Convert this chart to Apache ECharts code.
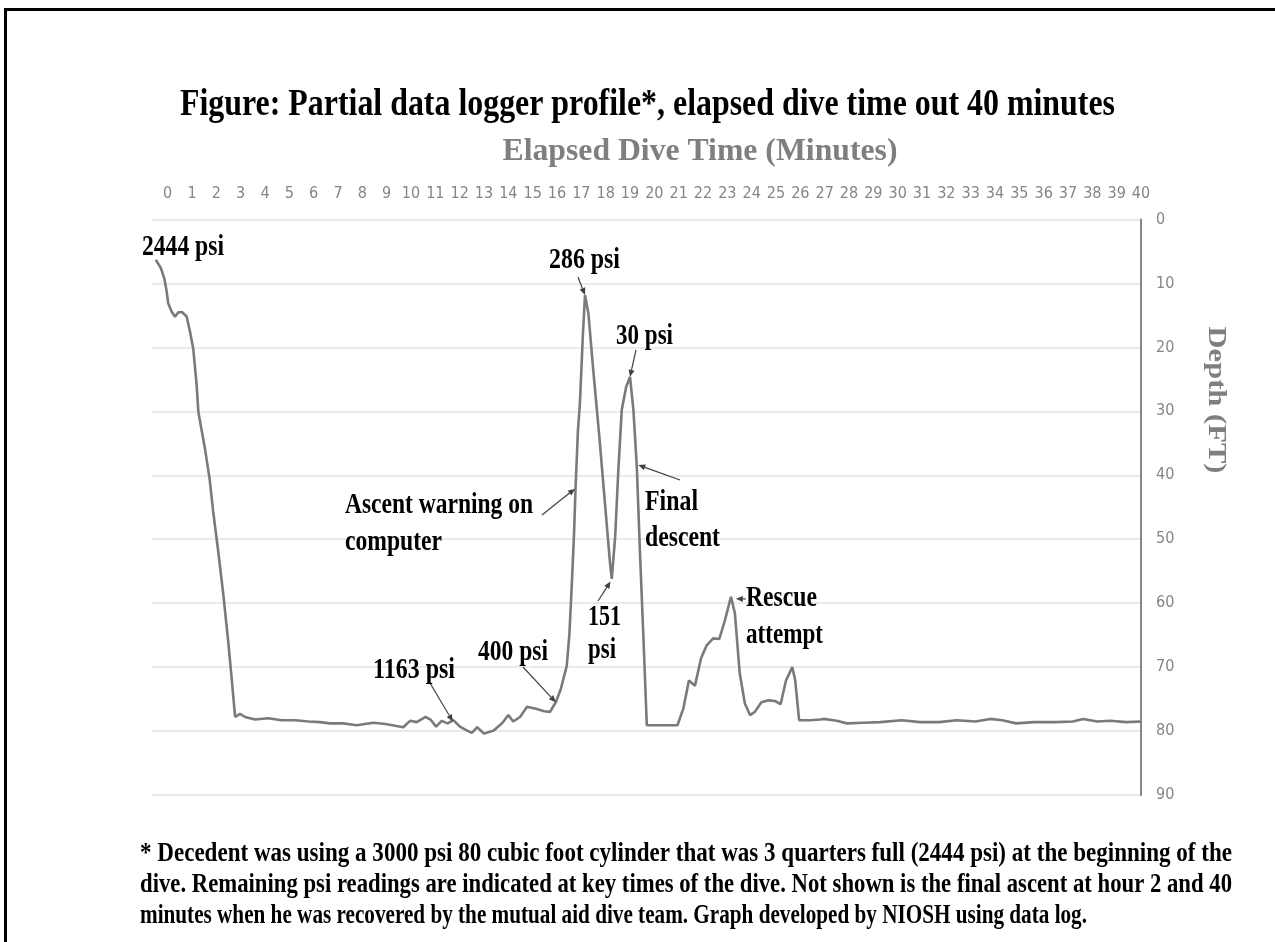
<!DOCTYPE html>
<html>
<head>
<meta charset="utf-8">
<script src="https://cdn.jsdelivr.net/npm/echarts@6/dist/echarts.min.js"></script>
<style>
html, body { margin: 0; padding: 0; background: #fff; }
#chart { width: 1275px; height: 942px; }
</style>
</head>
<body>
<div id="chart"></div>
<script>
// elapsed dive time (minutes)
const timeMin = [-0.49, -0.28, -0.14, -0.04, 0.02, 0.16, 0.30, 0.44, 0.60, 0.78, 0.92, 1.05, 1.19, 1.26, 1.53, 1.72, 1.87, 2.08, 2.29, 2.49, 2.63, 2.77, 2.97, 3.18, 3.59, 4.13, 4.69, 5.24, 5.80, 6.26, 6.67, 7.20, 7.77, 8.45, 8.95, 9.68, 9.96, 10.23, 10.60, 10.80, 11.03, 11.26, 11.50, 11.74, 12.01, 12.25, 12.50, 12.72, 13.00, 13.40, 13.76, 14.00, 14.20, 14.48, 14.77, 15.13, 15.48, 15.71, 15.95, 16.15, 16.40, 16.51, 16.61, 16.70, 16.76, 16.86, 16.94, 17.06, 17.15, 17.29, 17.49, 17.74, 17.97, 18.18, 18.25, 18.39, 18.52, 18.66, 18.84, 19.00, 19.14, 19.28, 19.41, 19.55, 19.69, 20.30, 20.95, 21.19, 21.42, 21.67, 21.92, 22.15, 22.42, 22.67, 22.90, 23.15, 23.31, 23.51, 23.72, 23.93, 24.13, 24.40, 24.69, 24.96, 25.19, 25.41, 25.67, 25.79, 25.95, 26.40, 26.81, 26.95, 27.50, 27.91, 28.60, 29.28, 30.17, 30.92, 31.70, 32.43, 33.20, 33.80, 34.30, 34.87, 35.60, 36.50, 37.20, 37.62, 38.20, 38.73, 39.40, 40.00]
// depth (ft) at each of those times
const depthFt = [6.3, 7.6, 9.2, 11.3, 13.1, 14.4, 15.2, 14.5, 14.5, 15.2, 17.6, 20.2, 25.9, 30.1, 35.8, 40.5, 45.7, 52.0, 58.8, 66.1, 71.8, 77.8, 77.3, 77.8, 78.2, 78.0, 78.3, 78.3, 78.5, 78.6, 78.8, 78.8, 79.1, 78.7, 78.9, 79.4, 78.4, 78.6, 77.8, 78.2, 79.3, 78.4, 78.8, 78.3, 79.3, 79.8, 80.3, 79.4, 80.4, 79.9, 78.7, 77.5, 78.5, 77.8, 76.2, 76.5, 76.9, 77.0, 75.5, 73.5, 69.8, 64.8, 56.9, 49.1, 42.1, 33.0, 28.8, 18.3, 11.8, 14.7, 23.6, 34.0, 44.4, 53.8, 56.2, 49.6, 39.2, 29.8, 26.2, 24.6, 29.8, 38.7, 52.2, 65.3, 79.1, 79.1, 79.1, 76.5, 72.1, 72.9, 68.6, 66.6, 65.5, 65.6, 62.7, 59.0, 61.6, 71.0, 75.7, 77.5, 77.0, 75.5, 75.2, 75.3, 75.8, 72.1, 70.0, 72.1, 78.3, 78.3, 78.2, 78.1, 78.4, 78.8, 78.7, 78.6, 78.3, 78.6, 78.6, 78.3, 78.5, 78.1, 78.3, 78.8, 78.6, 78.6, 78.5, 78.1, 78.5, 78.4, 78.6, 78.5]

// psi readings and notes, with the point of the profile each arrow points at
const noteTexts = ['2444 psi', '286 psi', '30 psi', 'Ascent warning on', 'computer', 'Final', 'descent', '151', 'psi', '400 psi', '1163 psi', 'Rescue', 'attempt']
const arrowTargets = [[17.15, 11.8], [19.0, 24.6], [16.74, 42.1], [19.34, 38.4], [18.2, 56.6], [15.95, 75.5], [11.72, 78.5], [23.35, 59.3]]

const footnote = [
  '* Decedent was using a 3000 psi 80 cubic foot cylinder that was 3 quarters full (2444 psi) at the beginning of the',
  'dive. Remaining psi readings are indicated at key times of the dive. Not shown is the final ascent at hour 2 and 40',
  'minutes when he was recovered by the mutual aid dive team. Graph developed by NIOSH using data log.'
]

const serif = '"Liberation Serif", "Times New Roman", serif'
const narrow = '"Liberation Sans Narrow", "DejaVu Sans Condensed", "Liberation Sans", sans-serif'

// [left, baseline, width] of every note, in page pixels
const noteBoxes = [[142, 257, 82], [549, 270, 71], [616, 346, 57], [345, 515, 188], [345, 552, 97], [645, 512, 53], [645, 548, 75], [588, 627, 33], [588, 660, 28], [478, 662, 70], [373, 680, 82], [746, 608, 71], [746, 645, 77]]
// arrow tails, in page pixels
const arrowTails = [[578, 277], [636, 350], [542, 515], [680, 480], [598, 601], [523, 667], [430, 683], [746, 599]]

const chart = echarts.init(document.getElementById('chart'))

const measure = document.createElement('canvas').getContext('2d')
function fitScale(text, size, width) {
  measure.font = 'bold ' + size + 'px ' + serif
  return width / measure.measureText(text).width
}

function label(text, x, baseline, size, width, color, align) {
  return {
    type: 'text',
    x: x,
    y: baseline - size * 0.32,
    scaleX: fitScale(text, size, width),
    z: 100,
    style: {
      text: text,
      font: 'bold ' + size + 'px ' + serif,
      fill: color || '#000',
      textAlign: align || 'left',
      align: align || 'left',
      textVerticalAlign: 'middle',
      verticalAlign: 'middle'
    }
  }
}

let option = {
  animation: false,
  grid: [
    { left: 152, right: 134, top: 219.5, bottom: 147 },
    { left: 167.7, right: 134, top: 219.5, bottom: 147 }
  ],
  xAxis: [
    { gridIndex: 0, type: 'value', min: -0.645, max: 40, show: false },
    {
      gridIndex: 1, type: 'value', position: 'top', min: 0, max: 40, interval: 1,
      axisLine: { show: false }, axisTick: { show: false }, splitLine: { show: false },
      axisLabel: { color: '#858585', fontSize: 16, fontFamily: narrow, margin: 18, interval: 0 }
    }
  ],
  yAxis: [
    {
      gridIndex: 0, type: 'value', position: 'right', inverse: true, min: 0, max: 90, interval: 10,
      axisLine: { show: true, onZero: false, lineStyle: { color: '#878787', width: 2 } },
      axisTick: { show: false },
      splitLine: { lineStyle: { color: '#e3e3e3', width: 1.5 } },
      axisLabel: { color: '#858585', fontSize: 16, fontFamily: narrow, margin: 15 }
    },
    { gridIndex: 1, type: 'value', min: 0, max: 90, show: false }
  ],
  series: [{
    type: 'line',
    xAxisIndex: 0,
    yAxisIndex: 0,
    data: timeMin.map((t, i) => [t, depthFt[i]]),
    symbol: 'none',
    showSymbol: false,
    lineStyle: { color: '#7a7a7a', width: 2.6 },
    silent: true
  }]
}
chart.setOption(option)

let graphics = [{
  type: 'rect',
  shape: { x: 5.5, y: 9.5, width: 1400, height: 1100 },
  style: { fill: 'none', stroke: '#000', lineWidth: 3 }
}]

graphics.push(label('Figure: Partial data logger profile*, elapsed dive time out 40 minutes', 647.5, 117, 38, 935, '#000', 'center'))
graphics.push(label('Elapsed Dive Time (Minutes)', 700, 162, 32, 395, '#7f7f7f', 'center'))

let depthTitle = label('Depth (FT)', 1216, 400, 26, 147, '#7f7f7f', 'center')
depthTitle.y = 400
depthTitle.rotation = -Math.PI / 2
graphics.push(depthTitle)

const footWidths = [1092, 1092, 947]
footnote.forEach((line, i) => {
  graphics.push(label(line, 140, 863 + i * 31, 27, footWidths[i]))
})

noteTexts.forEach((t, i) => {
  let b = noteBoxes[i]
  graphics.push(label(t, b[0], b[1], 30, b[2]))
})

arrowTargets.forEach((p, i) => {
  let tip = chart.convertToPixel({ xAxisIndex: 0, yAxisIndex: 0 }, p)
  let tail = arrowTails[i]
  let dx = tip[0] - tail[0], dy = tip[1] - tail[1]
  let len = Math.sqrt(dx * dx + dy * dy) || 1
  let ux = dx / len, uy = dy / len
  let hl = 7, hw = 3
  let bx = tip[0] - ux * hl, by = tip[1] - uy * hl
  graphics.push({
    type: 'line', z: 90,
    shape: { x1: tail[0], y1: tail[1], x2: bx, y2: by },
    style: { stroke: '#404040', lineWidth: 1.2 }
  })
  graphics.push({
    type: 'polygon', z: 90,
    shape: { points: [[tip[0], tip[1]], [bx - uy * hw, by + ux * hw], [bx + uy * hw, by - ux * hw]] },
    style: { fill: '#404040' }
  })
})

chart.setOption({ graphic: graphics })
</script>
</body>
</html>
